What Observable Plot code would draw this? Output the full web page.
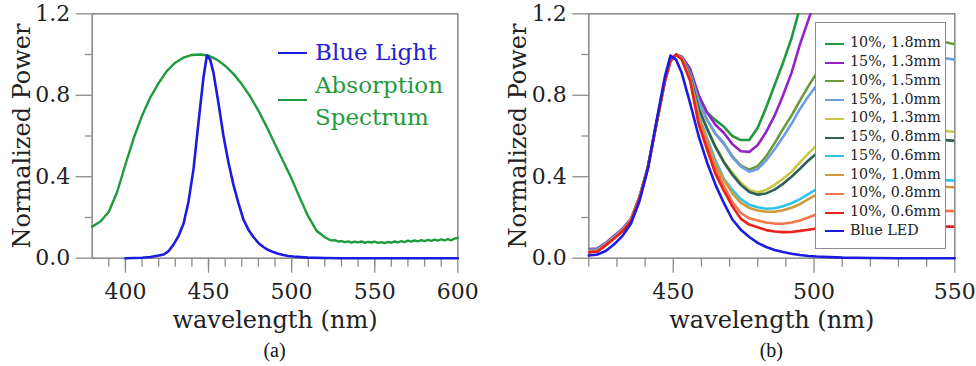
<!DOCTYPE html>
<html>
<head>
<meta charset="utf-8">
<script src="https://cdn.jsdelivr.net/npm/d3@7"></script>
<script src="https://cdn.jsdelivr.net/npm/@observablehq/plot@0.6"></script>
<style>
  body { margin: 0; background: #fff; }
  #figure { position: relative; width: 976px; height: 366px; display: flex; }
  .panel { position: relative; width: 488px; height: 366px; }
  .panel svg { position: absolute; left: 0; top: 0; }
  .caption { position: absolute; top: 339px; font-family: "Liberation Serif", serif; font-size: 20px; color: #111; transform: translateX(-50%); }
  .legA { position: absolute; left: 0; top: 0; font-family: "DejaVu Serif", serif; font-size: 23px; line-height: 1; }
  .legA .row { position: absolute; white-space: nowrap; }
  .swatch { position: absolute; height: 0; }
  .legB { position: absolute; background: #fff; border: 1.5px solid #8c8c8c; box-sizing: border-box; font-family: "DejaVu Serif", serif; font-size: 14.3px; color: #222; }
  .legB .row { position: absolute; left: 0; white-space: nowrap; height: 18px; }
</style>
</head>
<body>
<div id="figure">
  <div class="panel" id="panelA"></div>
  <div class="panel" id="panelB"></div>
</div>
<script>
// ---- Panel (a): blue light vs. absorption spectrum ----
const absWl = [380, 385, 390, 395, 400, 405, 410, 415, 420, 425, 430, 435, 440, 445, 450, 455, 460, 465, 470, 475, 480, 485, 490, 495, 500, 505, 510, 515, 520,
  522, 524, 526, 528, 530, 532, 534, 536, 538, 540, 542, 544, 546, 548, 550, 552, 554, 556, 558, 560,
  562, 564, 566, 568, 570, 572, 574, 576, 578, 580, 582, 584, 586, 588, 590, 592, 594, 596, 598, 600];
const absPower = [0.155, 0.18, 0.228, 0.325, 0.46, 0.59, 0.70, 0.79, 0.86, 0.92, 0.96, 0.985, 0.998, 1.0, 0.995, 0.975, 0.945, 0.905, 0.855, 0.795, 0.725, 0.645, 0.56, 0.475, 0.39, 0.295, 0.205, 0.135, 0.103,
  0.094, 0.087, 0.089, 0.082, 0.084, 0.079, 0.083, 0.077, 0.081, 0.078, 0.082, 0.076, 0.08, 0.077, 0.081, 0.075, 0.079, 0.074, 0.08, 0.076,
  0.082, 0.078, 0.084, 0.079, 0.086, 0.081, 0.087, 0.083, 0.089, 0.084, 0.09, 0.085, 0.091, 0.086, 0.093, 0.087, 0.094, 0.088, 0.096, 0.1];

// Blue LED emission (shared by both panels)
const ledWl = [400, 405, 410, 415, 420, 423, 426, 429, 432, 435, 438, 441, 444, 447, 449, 451, 453, 456, 459, 462, 465, 468, 471, 474, 477, 480,
  483, 486, 489, 492, 495, 498, 501, 510, 520, 530, 540, 550, 560, 570, 580, 590, 600];
const ledPower = [0, 0.001, 0.002, 0.006, 0.013, 0.018, 0.035, 0.068, 0.11, 0.17, 0.28, 0.44, 0.67, 0.89, 0.995, 0.975, 0.91, 0.76, 0.6, 0.47, 0.36, 0.27, 0.19, 0.14, 0.104, 0.075,
  0.055, 0.04, 0.03, 0.022, 0.016, 0.011, 0.008, 0.003, 0.001, 0, 0, 0, 0, 0, 0, 0, 0];

// ---- Panel (b): transmitted spectra for filter concentration / thickness ----
const wl = [420, 423, 426, 429, 432, 435, 438, 441, 444, 447, 449, 451, 453, 456, 459, 462, 465, 468, 471, 474, 477, 480, 483, 486, 489, 492, 495, 498, 501, 510, 520, 530, 540, 550];
const labels = ["10%, 1.8mm", "15%, 1.3mm", "10%, 1.5mm", "15%, 1.0mm", "10%, 1.3mm", "15%, 0.8mm", "15%, 0.6mm", "10%, 1.0mm", "10%, 0.8mm", "10%, 0.6mm", "Blue LED"];
const colors = ["#1f9a3c", "#9422c8", "#6a9a3c", "#6c9ee8", "#c9c845", "#2e6058", "#2cc4ec", "#d1993c", "#f2764a", "#e8201e", "#1c1ce0"];
const p10_18 = [0.04, 0.043, 0.07, 0.105, 0.14, 0.19, 0.30, 0.45, 0.66, 0.87, 0.97, 1.0, 0.985, 0.92, 0.80, 0.715, 0.678, 0.645, 0.60, 0.58, 0.58, 0.64, 0.74, 0.85, 0.96, 1.08, 1.23, 1.37, null, null, null, null, null, null];
const p15_13 = [0.045, 0.047, 0.075, 0.11, 0.145, 0.195, 0.30, 0.45, 0.655, 0.865, 0.965, 1.0, 0.99, 0.93, 0.80, 0.715, 0.655, 0.615, 0.56, 0.525, 0.522, 0.556, 0.62, 0.70, 0.80, 0.91, 1.05, 1.17, 1.29, null, null, null, null, null];
const p10_15 = [0.03, 0.035, 0.065, 0.1, 0.135, 0.185, 0.295, 0.445, 0.66, 0.87, 0.97, 1.0, 0.985, 0.91, 0.77, 0.68, 0.61, 0.565, 0.50, 0.455, 0.435, 0.452, 0.50, 0.565, 0.635, 0.70, 0.774, 0.845, 0.91, 1.04, 1.09, 1.10, 1.08, 1.05];
const p15_10 = [0.04, 0.042, 0.07, 0.105, 0.14, 0.19, 0.30, 0.45, 0.66, 0.87, 0.97, 1.0, 0.985, 0.91, 0.77, 0.68, 0.61, 0.56, 0.495, 0.45, 0.425, 0.438, 0.48, 0.535, 0.595, 0.66, 0.733, 0.795, 0.85, 0.95, 1.0, 1.01, 0.995, 0.975];
const p10_13 = [0.035, 0.04, 0.068, 0.102, 0.138, 0.188, 0.298, 0.448, 0.66, 0.87, 0.97, 1.0, 0.982, 0.90, 0.74, 0.64, 0.55, 0.475, 0.42, 0.37, 0.335, 0.324, 0.335, 0.36, 0.39, 0.425, 0.471, 0.515, 0.555, 0.61, 0.64, 0.645, 0.635, 0.62];
const p15_08 = [0.03, 0.035, 0.066, 0.1, 0.136, 0.186, 0.296, 0.446, 0.66, 0.87, 0.97, 1.0, 0.982, 0.90, 0.735, 0.635, 0.545, 0.47, 0.41, 0.36, 0.325, 0.312, 0.318, 0.337, 0.365, 0.40, 0.439, 0.48, 0.515, 0.565, 0.59, 0.595, 0.587, 0.576];
const p15_06 = [0.038, 0.04, 0.068, 0.103, 0.138, 0.188, 0.298, 0.448, 0.66, 0.87, 0.97, 1.0, 0.98, 0.89, 0.705, 0.59, 0.48, 0.39, 0.335, 0.29, 0.262, 0.25, 0.243, 0.245, 0.255, 0.27, 0.29, 0.315, 0.34, 0.37, 0.385, 0.39, 0.387, 0.381];
const p10_10 = [0.035, 0.038, 0.066, 0.1, 0.136, 0.186, 0.296, 0.446, 0.66, 0.87, 0.97, 1.0, 0.98, 0.885, 0.695, 0.58, 0.463, 0.385, 0.318, 0.272, 0.247, 0.234, 0.228, 0.228, 0.235, 0.248, 0.265, 0.29, 0.313, 0.34, 0.352, 0.356, 0.353, 0.348];
const p10_08 = [0.03, 0.034, 0.064, 0.098, 0.134, 0.184, 0.294, 0.444, 0.66, 0.87, 0.97, 1.0, 0.978, 0.88, 0.68, 0.56, 0.44, 0.355, 0.275, 0.222, 0.196, 0.185, 0.175, 0.17, 0.169, 0.175, 0.185, 0.20, 0.216, 0.228, 0.234, 0.236, 0.234, 0.231];
const p10_06 = [0.03, 0.033, 0.063, 0.097, 0.133, 0.183, 0.293, 0.443, 0.66, 0.87, 0.97, 1.0, 0.975, 0.87, 0.66, 0.535, 0.414, 0.33, 0.255, 0.193, 0.165, 0.152, 0.138, 0.131, 0.128, 0.129, 0.134, 0.14, 0.146, 0.151, 0.154, 0.156, 0.156, 0.155];
const seriesB = [p10_18, p15_13, p10_15, p15_10, p10_13, p15_08, p15_06, p10_10, p10_08, p10_06];

const yMajor = [0, 0.4, 0.8, 1.2];
const yMinor = [0.2, 0.6, 1.0];

const FONT = '"DejaVu Serif", serif';
const AXIS = "#8c8c8c";

function axes(xMajor, xMinor) {
  return [
    Plot.axisY(yMinor, {label: null, tickSize: 7, tickFormat: () => "", stroke: AXIS, strokeWidth: 1.3}),
    Plot.axisY(yMajor, {label: null, tickSize: 16, tickPadding: 6, tickFormat: d3.format(".1f"), stroke: AXIS, strokeWidth: 1.3, fill: "#222", fontSize: 22}),
    Plot.axisX(xMinor, {label: null, tickSize: 9, tickFormat: () => "", stroke: AXIS, strokeWidth: 1.3}),
    Plot.axisX(xMajor, {label: null, tickSize: 15, tickPadding: 10, tickFormat: d3.format("d"), stroke: AXIS, strokeWidth: 1.3, fill: "#222", fontSize: 22}),
    Plot.frame({stroke: AXIS, strokeWidth: 1.6}),
    Plot.text(["Normalized Power"], {frameAnchor: "left", dx: -70, rotate: -90, textAnchor: "middle", lineAnchor: "middle", text: d => d, fontSize: 24, fill: "#222"}),
    Plot.text(["wavelength (nm)"], {frameAnchor: "bottom", dy: 62, textAnchor: "middle", lineAnchor: "middle", text: d => d, fontSize: 24, fill: "#222"})
  ];
}

// Panel (a)
const absRows = absWl.map((w, i) => ({w, p: absPower[i]}));
const ledRows = ledWl.map((w, i) => ({w, p: ledPower[i]}));
const plotA = Plot.plot({
  width: 488, height: 336,
  marginLeft: 91.7, marginRight: 30.7, marginTop: 13.3, marginBottom: 78.3,
  style: {fontFamily: FONT, background: "#fff"},
  x: {domain: [380, 600], axis: null},
  y: {domain: [0, 1.2], axis: null},
  marks: [
    ...axes([400, 450, 500, 550, 600], d3.range(390, 600, 10)),
    Plot.line(absRows, {x: "w", y: "p", stroke: colors[0], strokeWidth: 2.4}),
    Plot.line(ledRows, {x: "w", y: "p", stroke: "#1c1ce0", strokeWidth: 2.6})
  ]
});
const panelA = document.getElementById("panelA");
panelA.appendChild(plotA);
panelA.insertAdjacentHTML("beforeend", `
  <div class="legA">
    <div class="swatch" style="left:278px;top:52px;width:29px;border-top:2.6px solid #1c1ce0"></div>
    <div class="row" style="left:315px;top:41px;color:#2323d0">Blue Light</div>
    <div class="swatch" style="left:278px;top:99px;width:29px;border-top:2.6px solid ${colors[0]}"></div>
    <div class="row" style="left:315px;top:74px;color:${colors[0]}">Absorption</div>
    <div class="row" style="left:315px;top:106px;color:${colors[0]}">Spectrum</div>
  </div>
  <div class="caption" style="left:274.5px">(a)</div>`);

// Panel (b)
const rowsB = seriesB.flatMap((vals, s) => wl.map((w, i) => ({w, p: vals[i], s})));
const ledB = ledRows.filter(d => d.w >= 420 && d.w <= 550);
const plotB = Plot.plot({
  width: 488, height: 336,
  marginLeft: 100.3, marginRight: 21.7, marginTop: 13.3, marginBottom: 78.3,
  style: {fontFamily: FONT, background: "#fff"},
  x: {domain: [420, 550], axis: null},
  y: {domain: [0, 1.2], axis: null},
  marks: [
    ...axes([450, 500, 550], d3.range(420, 550, 10).filter(d => d % 50 !== 0)),
    Plot.line(rowsB, {x: "w", y: "p", z: "s", stroke: d => colors[d.s], strokeWidth: 2.6, clip: true}),
    Plot.line(ledB, {x: "w", y: "p", stroke: colors[10], strokeWidth: 2.6})
  ]
});
const panelB = document.getElementById("panelB");
panelB.appendChild(plotB);
const legRows = labels.map((t, i) => `
  <div class="row" style="top:${11.6 + 18.75 * i}px">
    <span class="swatch" style="left:9px;top:8.5px;width:19px;border-top:2.6px solid ${colors[i]}"></span>
    <span style="position:absolute;left:34px;top:0">${t}</span>
  </div>`).join("");
panelB.insertAdjacentHTML("beforeend", `
  <div class="legB" style="left:327px;top:21.7px;width:130.7px;height:227.6px">${legRows}</div>
  <div class="caption" style="left:283.3px">(b)</div>`);
</script>
</body>
</html>
